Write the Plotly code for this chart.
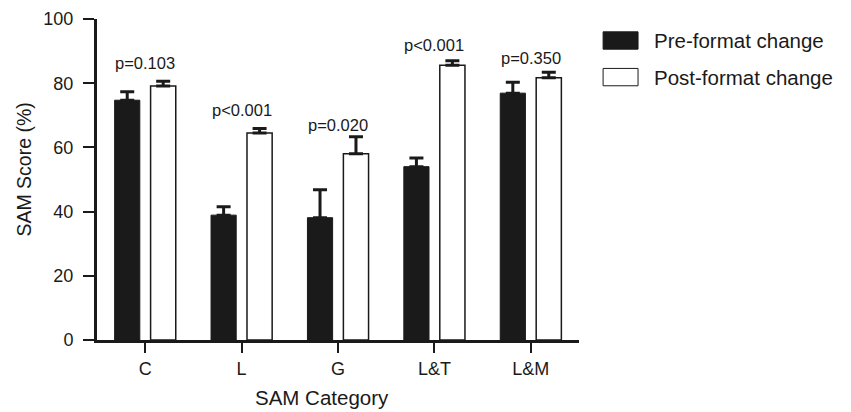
import plotly.graph_objects as go

categories = ["C", "L", "G", "L&T", "L&M"]
pre_values = [74.7, 38.9, 38.1, 54.0, 76.9]
pre_errors = [2.6, 2.6, 8.7, 2.7, 3.4]
post_values = [79.1, 64.5, 58.0, 85.6, 81.7]
post_errors = [1.5, 1.4, 5.3, 1.4, 1.7]
p_labels = ["p=0.103", "p<0.001", "p=0.020", "p<0.001", "p=0.350"]
p_label_y = [86.3, 71.6, 67.0, 92.0, 87.8]
series_names = ["Pre-format change", "Post-format change"]
y_ticks = [0, 20, 40, 60, 80, 100]

FONT = "Liberation Sans, Arial, Helvetica, sans-serif"
TXT = "#1a1a1a"

fig = go.Figure()
fig.add_trace(go.Bar(
    x=categories, y=pre_values, name=series_names[0],
    marker=dict(color="#1a1a1a", line=dict(color="#1a1a1a", width=1)),
    error_y=dict(type="data", symmetric=False, array=pre_errors,
                 arrayminus=[0] * len(pre_errors), color="#1a1a1a",
                 thickness=3, width=7),
    showlegend=False,
))
fig.add_trace(go.Bar(
    x=categories, y=post_values, name=series_names[1],
    marker=dict(color="white", line=dict(color="#1a1a1a", width=1.5)),
    error_y=dict(type="data", symmetric=False, array=post_errors,
                 arrayminus=[0] * len(post_errors), color="#1a1a1a",
                 thickness=3, width=7),
    showlegend=False,
))

for cat, lab, yy in zip(categories, p_labels, p_label_y):
    fig.add_annotation(x=cat, y=yy, text=lab, showarrow=False,
                       xref="x", yref="y",
                       font=dict(family=FONT, size=16.5, color=TXT))

# Legend drawn manually to match the reference's boxes
leg_items = [("#1a1a1a", 0.933, series_names[0]), ("white", 0.819, series_names[1])]
for fill, yc, name in leg_items:
    fig.add_shape(type="rect", xref="paper", yref="paper",
                  x0=1.05, x1=1.1225, y0=yc - 0.027, y1=yc + 0.027,
                  fillcolor=fill, line=dict(color="#1a1a1a", width=1))
    fig.add_annotation(xref="paper", yref="paper", x=1.152, y=yc,
                       xanchor="left", yanchor="middle", text=name,
                       showarrow=False,
                       font=dict(family=FONT, size=20.5, color=TXT))

fig.add_annotation(xref="paper", yref="paper", x=0.467, y=-0.178,
                   text="SAM Category", showarrow=False,
                   xanchor="center", yanchor="middle",
                   font=dict(family=FONT, size=20.5, color=TXT))
fig.add_annotation(xref="paper", yref="paper", x=-0.152, y=0.53,
                   text="SAM Score (%)", showarrow=False, textangle=-90,
                   xanchor="center", yanchor="middle",
                   font=dict(family=FONT, size=19.5, color=TXT))

# page body has an 8px margin, so the figure is sized/offset to compensate
fig.update_layout(
    width=843, height=404,
    margin=dict(l=89, r=272, t=11, b=72),
    plot_bgcolor="white", paper_bgcolor="white",
    barmode="group", bargap=0.254, bargroupgap=0.3,
    font=dict(family=FONT, size=18, color=TXT),
    xaxis=dict(range=[-0.5, 4.5], showline=True, linecolor="#1a1a1a",
               linewidth=3, ticks="outside", ticklen=10, tickwidth=2,
               tickcolor="#1a1a1a", showgrid=False, zeroline=False,
               automargin=False,
               tickfont=dict(family=FONT, size=18, color=TXT)),
    yaxis=dict(range=[0, 100], tickvals=y_ticks, showline=True,
               linecolor="#1a1a1a", linewidth=3, ticks="outside",
               ticklen=11, tickwidth=2, tickcolor="#1a1a1a",
               showgrid=False, zeroline=False, ticklabelstandoff=6,
               automargin=False,
               tickfont=dict(family=FONT, size=18, color=TXT)),
)

fig.write_html("out.html")
